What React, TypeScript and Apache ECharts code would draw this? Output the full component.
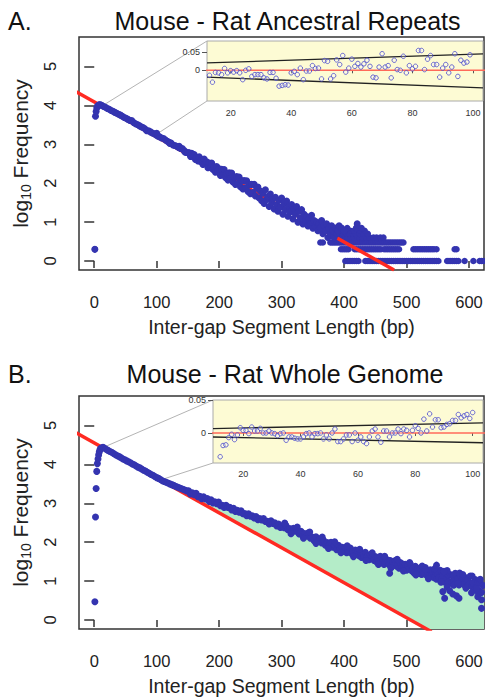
import React, { useEffect, useRef } from "react";
import * as echarts from "echarts";

const FONT = "'Liberation Sans', Arial, Helvetica, sans-serif";

// ---------- shared ticks ----------
const xTicks = [0, 100, 200, 300, 400, 500, 600];
const yTicks = [0, 1, 2, 3, 4, 5];
const insetXTicks = [20, 40, 60, 80, 100];
const insetYTicks = [0, 0.05];

// ---------- Panel A: Ancestral Repeats ----------
const aRedLine = [[-30, 4.36], [480, -0.23]];
const aHook = [[1, 0.3], [2, 3.72], [3, 3.84], [4, 3.93], [5, 3.98], [7, 4.01], [9, 4.02]];
const aBand = [
  [12, 4.0], [15, 3.97], [18, 3.95], [21, 3.92], [24, 3.9], [27, 3.87], [30, 3.85], [33, 3.82], [36, 3.8], [39, 3.77],
  [42, 3.75], [45, 3.72], [48, 3.69], [51, 3.67], [54, 3.64], [57, 3.61], [60, 3.61], [63, 3.56], [66, 3.53], [69, 3.51],
  [72, 3.48], [75, 3.45], [78, 3.43], [81, 3.4], [84, 3.35], [87, 3.35], [90, 3.32], [93, 3.29], [96, 3.27], [99, 3.24],
  [100, 3.28], [102, 3.21], [105, 3.19], [108, 3.16], [111, 3.15], [114, 3.11], [117, 3.08], [120, 3.05], [121, 3.02],
  [123, 3.03], [126, 2.98], [129, 2.97], [132, 2.95], [135, 2.92], [136, 2.95], [138, 2.89], [141, 2.89], [144, 2.84],
  [145, 2.8], [147, 2.79], [150, 2.79],
  [152, 2.78], [154, 2.69], [156, 2.77], [158, 2.68], [160, 2.74], [162, 2.61], [164, 2.66], [166, 2.57], [168, 2.68],
  [170, 2.56], [172, 2.61], [174, 2.48], [176, 2.62], [178, 2.5], [180, 2.55], [182, 2.4], [184, 2.52], [186, 2.41],
  [188, 2.52], [190, 2.35], [192, 2.42], [194, 2.28], [196, 2.43], [198, 2.31], [200, 2.37], [202, 2.2], [204, 2.36],
  [206, 2.22], [208, 2.35], [210, 2.15], [212, 2.25], [214, 2.08], [216, 2.27], [218, 2.12], [220, 2.26], [222, 2.03],
  [224, 2.16], [226, 1.97], [228, 2.17], [230, 2.0], [232, 2.16], [234, 1.91], [236, 2.07], [238, 1.85], [240, 2.07],
  [242, 1.88], [244, 2.06], [246, 1.79], [248, 1.97], [250, 1.73], [252, 1.97], [254, 1.76], [256, 1.97], [258, 1.67],
  [260, 1.87],
  [262, 1.9], [264, 1.62], [266, 1.8], [268, 1.55], [270, 1.74], [272, 1.48], [274, 1.83], [276, 1.58], [278, 1.66],
  [280, 1.4], [282, 1.72], [284, 1.5], [286, 1.6], [288, 1.34], [290, 1.64], [292, 1.45], [294, 1.28], [296, 1.56],
  [298, 1.38], [300, 1.62], [302, 1.2], [304, 1.48], [306, 1.32], [308, 1.54], [310, 1.15], [312, 1.4], [314, 1.26],
  [316, 1.45], [318, 1.08], [320, 1.34], [322, 1.2], [324, 1.4], [326, 1.0], [328, 1.28], [330, 1.11], [332, 1.32],
  [334, 0.95], [336, 1.204], [338, 1.041], [340, 1.146], [342, 0.903], [344, 1.079], [346, 0.954], [348, 1.176],
  [350, 0.845], [352, 1.041], [354, 0.903], [356, 1.0], [358, 0.778], [360, 0.954], [362, 0.845], [364, 1.041],
  [366, 0.699], [368, 0.903], [370, 0.778], [372, 0.954], [374, 0.602], [376, 0.845], [378, 0.699], [380, 0.903],
  [382, 0.778], [384, 0.602], [386, 0.845], [388, 0.699], [390, 0.778], [392, 0.903], [396, 0.845], [400, 0.778],
  [421, 0.954],
];
const aRowLevels = [0, 0.301, 0.477, 0.602, 0.699, 0.778, 0.845];
const aRowX = [
  [402, 405, 408, 411, 414, 417, 420, 423, 434, 437, 440, 443, 446, 449, 452, 455, 458, 461, 464, 467, 470, 473, 476, 479,
    482, 485, 488, 491, 494, 497, 500, 503, 506, 509, 512, 515, 518, 521, 524, 527, 530, 533, 536, 539, 542, 545, 548, 551,
    565, 568, 571, 574, 577, 580, 583, 593, 607, 617, 620, 623],
  [1, 395, 398, 401, 404, 407, 417, 420, 423, 426, 429, 432, 435, 438, 441, 444, 447, 450, 453, 456, 459, 464, 467, 470,
    473, 476, 479, 482, 485, 488, 511, 514, 517, 520, 523, 526, 529, 532, 535, 538, 541, 544, 548, 577, 580],
  [362, 366, 378, 381, 384, 387, 390, 393, 396, 399, 402, 405, 408, 411, 414, 417, 420, 423, 426, 429, 432, 435, 438, 441,
    444, 447, 450, 453, 456, 459, 462, 465, 468, 471, 474, 477, 480, 483, 486, 489, 492, 495],
  [392, 397, 402, 406, 411, 416, 421, 425, 430, 436, 441, 447, 452, 458, 463],
  [394, 399, 404, 409, 414, 419, 425, 431, 438],
  [395, 402, 410, 416, 425, 433],
  [392, 405, 419, 428],
];
const aInsetResid = [
  [13, -0.014], [14, -0.033], [15, -0.006], [16, -0.007], [17, -0.012], [18, 0.005], [19, -0.007], [20, -0.001],
  [21, -0.005], [22, -0.001], [23, -0.007], [24, -0.026], [25, 0.0], [26, 0.004], [27, -0.017], [28, -0.012],
  [29, -0.012], [30, -0.012], [31, -0.021], [32, -0.024], [33, -0.006], [34, -0.006], [35, -0.022], [36, -0.044],
  [37, -0.042], [38, -0.04], [39, -0.041], [40, -0.007], [41, -0.003], [42, -0.012], [43, 0.006], [44, -0.026],
  [45, -0.002], [46, -0.002], [47, 0.013], [48, 0.005], [49, 0.006], [50, -0.024], [51, 0.027], [52, 0.025],
  [53, -0.024], [54, -0.015], [55, 0.029], [56, 0.016], [57, 0.041], [58, -0.005], [59, 0.006], [60, 0.031],
  [61, 0.011], [62, 0.019], [63, 0.009], [64, 0.018], [65, 0.028], [66, 0.011], [67, -0.019], [68, -0.021],
  [69, 0.009], [70, 0.046], [71, 0.009], [72, 0.013], [73, -0.021], [74, 0.028], [75, 0.002], [76, 0.0],
  [77, 0.039], [78, -0.007], [79, 0.013], [80, 0.004], [81, 0.011], [82, 0.055], [83, 0.055], [84, 0.002],
  [85, 0.031], [86, 0.041], [87, 0.016], [88, 0.016], [89, -0.019], [90, 0.006], [91, 0.016], [92, -0.007],
  [93, 0.009], [94, 0.046], [95, -0.017], [96, 0.028], [97, 0.02], [98, 0.023], [99, 0.043],
];
const aInsetUpper = [[12.2, 0.0206], [103.3, 0.0456]];
const aInsetLower = [[12.2, -0.019], [103.3, -0.049]];
const aZoomFrom = [[14, 4.0], [100, 3.26]];

// ---------- Panel B: Whole Genome ----------
const bRedLine = [[-30, 4.82], [540, -0.3]];
const bHook = [[1, 0.47], [2, 2.65], [3, 3.38], [4, 3.82], [5, 4.02], [6, 4.14], [7, 4.24], [8, 4.32], [9, 4.37], [10, 4.41], [12, 4.43], [14, 4.44]];
const bBand = [
  [16, 4.42], [19, 4.39], [22, 4.36], [25, 4.33], [28, 4.31], [31, 4.28], [34, 4.25], [37, 4.22], [40, 4.2], [43, 4.17],
  [46, 4.14], [49, 4.12], [52, 4.09], [55, 4.07], [58, 4.04], [61, 4.01], [64, 3.99], [67, 3.96], [70, 3.93], [73, 3.91],
  [76, 3.88], [79, 3.85], [82, 3.83], [85, 3.8], [88, 3.77], [91, 3.74], [94, 3.72], [97, 3.69], [100, 3.66], [103, 3.64],
  [106, 3.61], [109, 3.58], [112, 3.56], [115, 3.54], [118, 3.52], [121, 3.5], [124, 3.48], [127, 3.46], [130, 3.44],
  [133, 3.42], [136, 3.4], [139, 3.38], [142, 3.36], [145, 3.34], [148, 3.32],
  [151, 3.32], [154, 3.24], [157, 3.27], [160, 3.22], [163, 3.26], [166, 3.17], [169, 3.18], [172, 3.12], [175, 3.17],
  [178, 3.11], [181, 3.12], [184, 3.05], [187, 3.09], [190, 3.01], [193, 3.04], [196, 2.99], [199, 3.03], [202, 2.94],
  [205, 2.95], [208, 2.89], [211, 2.95], [214, 2.89], [217, 2.9], [220, 2.83], [223, 2.87], [226, 2.79], [229, 2.82],
  [232, 2.77], [235, 2.81], [238, 2.73], [241, 2.74], [244, 2.68], [247, 2.73], [250, 2.67], [253, 2.68], [256, 2.62],
  [259, 2.66], [262, 2.58], [265, 2.61], [268, 2.57], [271, 2.61], [274, 2.53], [277, 2.54], [280, 2.47], [283, 2.55],
  [286, 2.48], [289, 2.5], [292, 2.42], [295, 2.47], [298, 2.38], [301, 2.42], [304, 2.37], [307, 2.43], [310, 2.32],
  [313, 2.35], [316, 2.27], [319, 2.36], [322, 2.28], [325, 2.31], [328, 2.21], [331, 2.28], [334, 2.16], [337, 2.22],
  [340, 2.16], [343, 2.24], [346, 2.1], [349, 2.13], [352, 2.04], [355, 2.14], [358, 2.05], [361, 2.08], [364, 1.98],
  [367, 2.05], [370, 1.92], [373, 1.99], [376, 1.92], [379, 2.0], [382, 1.87], [385, 1.91], [388, 1.81], [391, 1.92],
  [394, 1.84], [397, 1.87], [400, 1.77],
  [402, 1.86], [404, 1.73], [406, 1.82], [408, 1.75], [410, 1.85], [412, 1.71], [414, 1.76], [416, 1.66], [418, 1.8],
  [420, 1.71], [422, 1.75], [424, 1.65], [426, 1.74], [428, 1.61], [430, 1.7], [432, 1.63], [434, 1.74], [436, 1.6],
  [438, 1.65], [440, 1.55], [442, 1.68], [444, 1.59], [446, 1.64], [448, 1.53], [450, 1.63], [452, 1.49], [454, 1.59],
  [456, 1.52], [458, 1.64], [460, 1.48], [462, 1.54], [464, 1.43], [466, 1.58], [468, 1.48], [470, 1.54], [472, 1.42],
  [474, 1.53], [476, 1.39], [478, 1.49], [480, 1.41], [482, 1.53], [484, 1.38], [486, 1.44], [488, 1.33], [490, 1.48],
  [492, 1.38], [494, 1.44], [496, 1.32], [498, 1.43], [500, 1.28], [502, 1.39], [504, 1.31], [506, 1.44], [508, 1.27],
  [510, 1.33], [512, 1.21], [514, 1.38], [516, 1.27], [518, 1.33], [520, 1.2], [522, 1.32], [524, 1.17], [526, 1.28],
  [528, 1.19], [530, 1.35], [532, 1.15], [534, 1.23], [536, 1.09], [538, 1.29], [540, 1.17], [542, 1.24], [544, 1.09],
  [546, 1.24], [548, 1.05], [550, 1.19], [552, 1.09], [554, 1.28], [556, 1.05], [558, 1.14], [560, 0.98], [562, 1.22],
  [564, 1.08], [566, 1.17], [568, 0.99], [570, 1.17], [572, 0.95], [574, 1.12], [576, 1.01], [578, 1.2], [580, 0.97],
  [582, 1.06], [584, 0.9], [586, 1.14], [588, 1.0], [590, 1.09], [592, 0.91], [594, 1.09], [596, 0.87], [598, 1.03],
  [600, 0.92], [602, 1.13], [604, 0.86], [606, 0.96], [608, 0.77], [610, 1.04], [612, 0.87], [614, 0.97], [616, 0.76],
  [618, 0.96], [620, 0.71], [622, 0.89],
];
const bBandEdges = [
  [305, 2.49], [315, 2.22], [325, 2.39], [335, 2.1], [345, 2.26], [355, 1.97], [365, 2.13], [375, 1.84], [385, 2.01],
  [395, 1.73], [405, 1.91], [415, 1.63], [425, 1.82], [435, 1.53], [445, 1.73], [455, 1.43], [465, 1.64], [475, 1.34],
  [485, 1.56], [495, 1.26], [505, 1.48], [515, 1.16], [525, 1.39], [535, 1.06], [545, 1.32], [555, 0.97], [565, 1.27],
  [575, 0.9], [585, 1.21], [595, 0.82], [605, 1.13], [615, 0.7], [618, 1.05], [590, 1.17], [560, 1.25], [530, 1.3],
];
const bOutliers = [
  [473, 1.2], [548, 1.41], [558, 0.73], [565, 0.85], [569, 0.75], [574, 0.67], [580, 0.62], [584, 0.56], [561, 0.56],
  [576, 0.9], [582, 0.94], [620, 0.3], [620, 0.52], [612, 0.81], [614, 0.6], [604, 0.7],
];
const bFillPoly = [
  [120, 3.473], [150, 3.26], [200, 2.93], [250, 2.63], [300, 2.36], [350, 2.06], [400, 1.76], [450, 1.52], [500, 1.3],
  [550, 1.08], [600, 0.88], [624, 0.72], [624, -0.231], [532.7, -0.231],
];
const bInsetResid = [
  [12, -0.036], [13, -0.019], [14, -0.018], [15, -0.007], [16, -0.002], [17, -0.01], [18, -0.003], [19, 0.008],
  [20, 0.004], [21, 0.004], [22, -0.001], [23, 0.009], [24, 0.003], [25, 0.003], [26, 0.007], [27, 0.0], [28, 0.0],
  [29, 0.003], [30, 0.0], [31, -0.001], [32, -0.004], [33, -0.001], [34, 0.0], [35, -0.011], [36, -0.006], [37, -0.006],
  [38, -0.008], [39, -0.009], [40, -0.009], [41, -0.006], [42, -0.001], [43, 0.0], [44, -0.006], [45, -0.001],
  [46, -0.001], [47, 0.0], [48, -0.009], [49, -0.003], [50, -0.009], [51, 0.0], [52, 0.006], [53, -0.013], [54, -0.013],
  [55, -0.009], [56, -0.003], [57, -0.003], [58, -0.013], [59, 0.0], [60, -0.011], [61, -0.006], [62, -0.013],
  [63, -0.016], [64, -0.006], [65, 0.003], [66, 0.006], [67, -0.006], [68, -0.014], [69, 0.003], [70, 0.003],
  [71, -0.006], [72, 0.0], [73, 0.0], [74, 0.006], [75, -0.001], [76, 0.006], [77, 0.004], [78, -0.006], [79, 0.004],
  [80, 0.011], [81, 0.007], [82, 0.0], [83, 0.021], [84, 0.003], [85, 0.029], [86, 0.009], [87, 0.02], [88, 0.02],
  [89, 0.008], [90, 0.009], [91, 0.013], [92, 0.014], [93, 0.019], [94, 0.019], [95, 0.028], [96, 0.023], [97, 0.026],
  [98, 0.028], [99, 0.022], [100, 0.031],
];
const bInsetUpper = [[9.5, 0.0066], [103.6, 0.0153]];
const bInsetLower = [[9.5, -0.0061], [103.6, -0.0148]];
const bZoomFrom = [[15, 4.44], [110, 3.62]];

const zeroLine = [[0, 0], [110, 0]];

// ---------- styles ----------
const DOT = "#3434b0";
const RED = "#ff2a22";
const INSET_BG = "#fdfbd4";

const mainX = (gridIndex: number) => ({
  gridIndex,
  type: "value",
  min: -24.4,
  max: 624,
  offset: 4,
  axisLine: { show: false },
  axisTick: { show: true, length: 7, customValues: xTicks, lineStyle: { color: "#333", width: 1.5 } },
  axisLabel: { customValues: xTicks, margin: 19, fontSize: 16.5, color: "#222", fontFamily: FONT },
  splitLine: { show: false },
  name: "Inter-gap Segment Length (bp)",
  nameLocation: "middle",
  nameGap: 43,
  nameTextStyle: { fontSize: 19.5, color: "#222", fontFamily: FONT },
});

const mainY = (gridIndex: number) => ({
  gridIndex,
  type: "value",
  min: -0.231,
  max: 5.758,
  offset: 1,
  axisLine: { show: false },
  axisTick: { show: true, length: 10, customValues: yTicks, lineStyle: { color: "#333", width: 1.5 } },
  axisLabel: { customValues: yTicks, rotate: 90, margin: 20, fontSize: 16.5, color: "#222", fontFamily: FONT },
  splitLine: { show: false },
  name: "{a|log}{s|10}{a| Frequency}",
  nameLocation: "middle",
  nameGap: 42,
  nameTextStyle: {
    color: "#222",
    fontFamily: FONT,
    rich: {
      a: { fontSize: 21, fontFamily: FONT, color: "#222" },
      s: { fontSize: 14, fontFamily: FONT, color: "#222", padding: [12, 0, 0, 0] },
    },
  },
});

const insetX = (gridIndex: number, min: number, max: number, margin: number) => ({
  gridIndex,
  type: "value",
  min,
  max,
  axisLine: { show: false },
  axisTick: { show: true, length: 3, customValues: insetXTicks, lineStyle: { color: "#555", width: 1 } },
  axisLabel: { customValues: insetXTicks, margin, fontSize: 9, color: "#333", fontFamily: FONT },
  splitLine: { show: false },
});

const insetY = (gridIndex: number, min: number, max: number) => ({
  gridIndex,
  type: "value",
  min,
  max,
  axisLine: { show: false },
  axisTick: { show: true, length: 5, customValues: insetYTicks, lineStyle: { color: "#555", width: 1 } },
  axisLabel: {
    customValues: insetYTicks,
    margin: 7,
    fontSize: 9,
    color: "#333",
    fontFamily: FONT,
    formatter: (v: number) => (v === 0 ? "0" : "0.05"),
  },
  splitLine: { show: false },
});

const lineSeries = (xi: number, data: number[][], color: string, width: number, z: number) => ({
  type: "line",
  xAxisIndex: xi,
  yAxisIndex: xi,
  data,
  showSymbol: false,
  symbol: "none",
  lineStyle: { color, width },
  z,
  silent: true,
  clip: true,
});

const dots = (xi: number, data: number[][], z: number, size: number) => ({
  type: "scatter",
  xAxisIndex: xi,
  yAxisIndex: xi,
  data,
  symbolSize: size,
  itemStyle: { color: DOT, opacity: 1 },
  z,
  silent: true,
  clip: true,
});

const openDots = (xi: number, data: number[][]) => ({
  type: "scatter",
  xAxisIndex: xi,
  yAxisIndex: xi,
  data,
  symbolSize: 4.5,
  itemStyle: { color: "rgba(255,255,255,0.35)", borderColor: "#4646cc", borderWidth: 1 },
  z: 6,
  silent: true,
  clip: true,
});

const gridBox = (left: number, top: number, width: number, height: number, inset: boolean) => ({
  left,
  top,
  width,
  height,
  show: true,
  containLabel: false,
  outerBoundsMode: "none",
  borderColor: inset ? "#aaa" : "#333",
  borderWidth: inset ? 1 : 1.5,
  backgroundColor: inset ? INSET_BG : "transparent",
});

export default function App() {
  const ref = useRef<HTMLDivElement>(null);

  useEffect(() => {
    if (!ref.current) return;
    const chart = echarts.init(ref.current, undefined, { renderer: "svg" });

    const aRows = aRowX.flatMap((xs, i) => xs.map((x) => [x, aRowLevels[i]]));

    const option: any = {
      animation: false,
      grid: [
        gridBox(79, 37, 405, 233, false),
        gridBox(207, 41, 276, 60, true),
        gridBox(79, 396, 405, 233, false),
        gridBox(213, 400, 270, 63, true),
      ],
      xAxis: [mainX(0), insetX(1, 12.2, 103.3, 7), mainX(2), insetX(3, 9.5, 103.6, 6)],
      yAxis: [mainY(0), insetY(1, -0.0853, 0.0814), mainY(2), insetY(3, -0.0455, 0.05)],
      series: [
        // Panel A main
        dots(0, aRows, 2, 6.5),
        lineSeries(0, aRedLine, RED, 3.5, 3),
        dots(0, [...aHook, ...aBand], 4, 7),
        // Panel A inset
        lineSeries(1, zeroLine, "#ff6a5a", 1.5, 4),
        lineSeries(1, aInsetUpper, "#222", 1.3, 4),
        lineSeries(1, aInsetLower, "#222", 1.3, 4),
        openDots(1, aInsetResid),
        // Panel B main
        {
          type: "custom",
          xAxisIndex: 2,
          yAxisIndex: 2,
          data: [[0, 0]],
          z: 1,
          silent: true,
          clip: true,
          renderItem: (_p: any, api: any) => ({
            type: "polygon",
            shape: { points: bFillPoly.map((p) => api.coord(p)) },
            style: { fill: "#b4ecc8" },
          }),
        },
        lineSeries(2, bRedLine, RED, 3.5, 2),
        dots(2, [...bHook, ...bBand, ...bBandEdges, ...bOutliers], 4, 7),
        // Panel B inset
        lineSeries(3, zeroLine, "#ff6a5a", 1.5, 4),
        lineSeries(3, bInsetUpper, "#222", 1.3, 4),
        lineSeries(3, bInsetLower, "#222", 1.3, 4),
        openDots(3, bInsetResid),
      ],
    };
    chart.setOption(option);

    const px = (g: number, v: number[]) => chart.convertToPixel({ gridIndex: g } as any, v) as number[];
    const connector = (a: number[], b: number[]) => ({
      type: "line",
      silent: true,
      z: -1,
      shape: { x1: a[0], y1: a[1], x2: b[0], y2: b[1] },
      style: { stroke: "#b4b4b4", lineWidth: 1 },
    });
    const title = (text: string, x: number, y: number, align: string) => ({
      type: "text",
      silent: true,
      style: {
        text,
        x,
        y,
        fill: "#111",
        font: `25px ${FONT}`,
        fontSize: 25,
        fontFamily: FONT,
        align,
        textAlign: align,
        verticalAlign: "middle",
        textVerticalAlign: "middle",
      },
    });

    chart.setOption({
      graphic: [
        connector(px(0, aZoomFrom[0]), px(1, [12.2, 0.0814])),
        connector(px(0, aZoomFrom[1]), px(1, [12.2, -0.0853])),
        connector(px(2, bZoomFrom[0]), px(3, [9.5, 0.05])),
        connector(px(2, bZoomFrom[1]), px(3, [9.5, -0.0455])),
        title("A.", 8, 20.5, "left"),
        title("Mouse - Rat Ancestral Repeats", 287.5, 20.5, "center"),
        title("B.", 8, 374, "left"),
        title("Mouse - Rat Whole Genome", 285, 374, "center"),
      ],
    });

    return () => chart.dispose();
  }, []);

  return <div ref={ref} style={{ position: "fixed", left: 0, top: 0, width: 485, height: 698, background: "#fff" }} />;
}
